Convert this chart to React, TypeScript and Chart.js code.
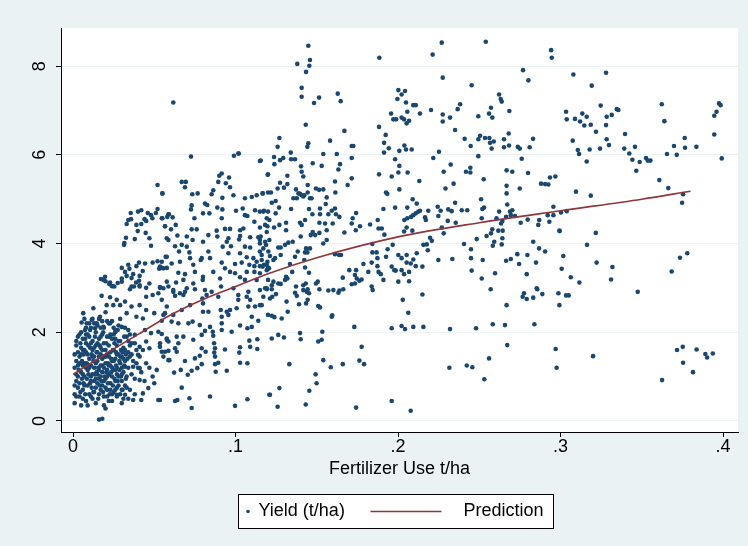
import React, { useEffect, useRef } from "react";
import { Chart, registerables } from "chart.js";

Chart.register(...registerables);

// ---- axis ticks ----
const xTickValues = [0, 0.1, 0.2, 0.3, 0.4];
const yTickValues = [0, 2, 4, 6, 8];
const xAxisTitle = "Fertilizer Use t/ha";
const legendLabels = ["Yield (t/ha)", "Prediction"];

// ---- prediction curve ----
const predictionX = [0, 0.01, 0.02, 0.04, 0.06, 0.08, 0.1, 0.12, 0.15, 0.2, 0.25, 0.3, 0.35, 0.38];
const predictionY = [1.05, 1.28, 1.51, 1.95, 2.39, 2.74, 3.03, 3.32, 3.68, 4.15, 4.47, 4.74, 5.0, 5.18];

// ---- observed yield, flat [fertilizer, yield, ...] lists by fertilizer band ----
const yieldCore = [
  0.001,0.40, 0.001,0.60, 0.002,0.90, 0.001,1.20, 0.002,1.35, 0.001,1.50, 0.002,1.70, 0.003,1.90, 0.003,0.75, 0.002,1.05,
  0.016,0.03, 0.018,0.05, 0.020,0.28, 0.019,0.35,
  0.004,0.55, 0.004,0.85, 0.005,1.10, 0.004,1.45, 0.005,1.65, 0.006,1.85, 0.006,0.70, 0.007,1.00, 0.007,1.30, 0.008,1.55,
  0.008,1.75, 0.008,0.45, 0.009,0.80, 0.009,1.15, 0.010,1.40, 0.010,1.90, 0.010,0.60, 0.011,1.00, 0.011,1.25, 0.012,1.60,
  0.012,1.80, 0.012,0.50, 0.013,0.90, 0.013,1.20, 0.013,1.45, 0.014,1.70, 0.014,2.00, 0.014,0.75, 0.015,1.05, 0.015,1.35,
  0.015,1.55, 0.016,1.85, 0.016,0.60, 0.016,0.95, 0.017,1.25, 0.017,1.50, 0.017,1.65, 0.018,0.80, 0.018,1.10, 0.018,1.40,
  0.019,1.75, 0.019,2.10, 0.019,0.55, 0.020,0.95, 0.020,1.30, 0.020,1.60, 0.021,1.90, 0.021,0.70, 0.021,1.15, 0.022,1.45,
  0.022,1.70, 0.022,0.45, 0.023,0.85, 0.023,1.25, 0.023,1.55, 0.024,1.00, 0.024,1.35, 0.024,1.85, 0.025,0.65, 0.025,1.15,
  0.025,1.60, 0.026,0.90, 0.026,1.40, 0.026,2.00, 0.027,0.75, 0.027,1.20, 0.027,1.70, 0.028,1.00, 0.028,1.50, 0.029,0.60,
  0.029,1.30, 0.029,1.80, 0.030,0.90, 0.030,1.45, 0.031,1.10, 0.031,1.65, 0.032,0.80, 0.032,1.35, 0.033,1.00, 0.033,1.90,
  0.034,1.20, 0.034,1.55, 0.035,0.70, 0.035,1.70, 0.036,1.05, 0.037,1.35, 0.038,0.95, 0.039,1.60, 0.040,1.20,
  0.005,0.35, 0.006,1.25, 0.007,1.60, 0.009,1.50, 0.011,1.75, 0.012,1.05, 0.013,0.65, 0.014,1.30, 0.015,0.85, 0.016,1.45,
  0.017,1.00, 0.018,1.60, 0.019,1.20, 0.020,0.75, 0.021,1.50, 0.022,1.05, 0.023,1.95, 0.024,0.60, 0.025,1.35, 0.026,1.15,
  0.027,1.50, 0.028,0.80, 0.030,1.20, 0.031,0.50, 0.012,2.30, 0.008,2.10, 0.005,2.00, 0.016,2.30, 0.020,2.45, 0.024,2.25,
  0.028,2.15, 0.003,1.55, 0.002,0.55,
  0.0035,1.15, 0.0045,1.75, 0.0055,0.95, 0.0065,1.50, 0.0075,0.60, 0.0085,1.30, 0.0095,1.05, 0.0105,1.65, 0.0115,0.75, 0.0125,1.35,
  0.0135,1.90, 0.0145,1.10, 0.0155,0.50, 0.0165,1.70, 0.0175,0.90, 0.0185,2.00, 0.0195,1.45, 0.0205,1.10, 0.0215,0.85, 0.0225,1.90,
  0.0235,1.40, 0.0245,0.80, 0.0255,1.75, 0.0265,1.25, 0.0275,2.05, 0.0285,1.15, 0.0295,1.60, 0.0305,0.70, 0.0315,1.90, 0.0325,1.50,
  0.006,0.50, 0.009,0.35, 0.011,0.55, 0.014,0.40, 0.017,0.70, 0.021,0.55, 0.024,0.45, 0.027,0.55, 0.030,0.40, 0.008,1.95,
  0.011,2.10, 0.015,2.15, 0.018,1.95, 0.022,2.20, 0.026,1.85, 0.029,2.30, 0.032,2.10, 0.035,1.95, 0.038,1.75, 0.036,1.50,
  0.039,1.30, 0.041,1.45, 0.043,1.60, 0.042,1.10, 0.045,1.30, 0.044,0.90, 0.047,1.20, 0.049,1.00, 0.038,0.60, 0.034,0.50,
  0.0045,0.65, 0.0055,1.35, 0.0065,0.85, 0.0075,1.85, 0.0085,0.95, 0.0095,1.70, 0.0105,0.85, 0.0115,1.50, 0.0125,0.65, 0.0135,1.05,
  0.0145,1.55, 0.0155,1.20, 0.0165,0.80, 0.0175,1.45, 0.0185,0.65, 0.0195,1.00, 0.0205,1.75, 0.0215,1.30, 0.0225,0.60, 0.0235,1.10,
  0.0245,1.60, 0.0255,0.95, 0.0265,1.55, 0.0275,0.90, 0.0285,1.35, 0.0295,1.00, 0.0305,1.55, 0.0315,1.25, 0.0325,0.95, 0.0335,1.40,
  0.005,1.50, 0.006,1.05, 0.007,0.80, 0.008,1.20, 0.009,1.95, 0.010,1.20, 0.011,0.90, 0.012,1.45, 0.013,1.65, 0.014,0.95,
  0.015,1.75, 0.016,1.15, 0.017,1.90, 0.018,1.25, 0.019,0.90, 0.020,1.45, 0.021,1.00, 0.022,1.25, 0.023,0.70, 0.024,1.20,
  0.025,1.95, 0.026,0.70, 0.027,1.05, 0.028,1.80, 0.029,1.45, 0.030,1.05, 0.031,1.40, 0.032,1.60, 0.033,0.75, 0.034,1.80,
  0.004,1.30, 0.006,1.60, 0.009,1.25, 0.013,2.20, 0.017,2.10, 0.021,2.25, 0.025,2.10, 0.018,2.25, 0.010,2.20, 0.007,2.30,
  0.003,1.00, 0.003,1.25, 0.002,1.80, 0.004,1.95, 0.001,0.80,
];

const yieldRise = [
  0.0187,3.18, 0.0244,3.04, 0.0223,3.09, 0.030,3.14, 0.036,3.03, 0.041,3.06, 0.047,3.10, 0.0525,2.88, 0.049,2.84, 0.045,2.80,
  0.0535,3.00, 0.0176,2.82, 0.0228,2.79, 0.0207,2.61, 0.0248,2.61, 0.029,2.61, 0.0269,2.73, 0.032,2.69, 0.036,2.58, 0.041,2.61,
  0.045,2.50, 0.033,2.43, 0.039,2.35, 0.043,2.31, 0.050,2.43, 0.0556,2.39, 0.0063,2.43, 0.0125,2.54, 0.0053,2.22, 0.0084,2.20,
  0.0115,2.28, 0.0146,2.20, 0.0166,2.35, 0.0074,2.05, 0.0105,2.05, 0.0135,2.09, 0.0187,2.12, 0.0228,2.20, 0.026,2.05, 0.030,2.12,
  0.034,2.05, 0.038,1.94, 0.0443,2.05, 0.048,1.98, 0.0525,2.01, 0.0577,1.86, 0.045,1.79, 0.047,1.64, 0.0535,1.67, 0.0566,1.56,
  0.0587,1.37, 0.041,1.67, 0.036,1.75, 0.040,1.49, 0.035,1.45, 0.037,1.22, 0.032,1.22, 0.041,1.19, 0.0515,1.15, 0.050,0.85,
  0.0463,0.74, 0.043,0.62, 0.041,0.92, 0.037,0.47, 0.042,0.47, 0.0525,0.47, 0.030,0.70, 0.032,0.59, 0.0269,0.59,
  0.052,5.32, 0.055,5.13, 0.042,4.75, 0.040,4.72, 0.0355,4.69, 0.046,4.69, 0.048,4.64, 0.051,4.69, 0.052,4.78, 0.0587,4.66,
  0.034,4.53, 0.0357,4.55, 0.033,4.44, 0.039,4.42, 0.042,4.44, 0.044,4.55, 0.045,4.51, 0.0488,4.57, 0.0546,4.57, 0.0566,4.39,
  0.0398,4.28, 0.0447,4.24, 0.047,4.12, 0.0326,4.13, 0.0316,4.01, 0.0314,3.97, 0.038,4.10, 0.048,3.95, 0.0587,4.08, 0.0577,3.70,
  0.0546,3.59, 0.052,3.60, 0.049,3.57, 0.0546,3.45, 0.053,3.43, 0.0577,3.45, 0.030,3.45, 0.034,3.52, 0.0347,3.43, 0.039,3.49,
  0.0406,3.57, 0.0443,3.55, 0.037,3.31, 0.041,3.27, 0.0429,3.38, 0.032,3.36, 0.033,3.27, 0.030,3.21, 0.0172,3.20, 0.0197,3.25,
  0.020,3.15, 0.0228,3.12, 0.0238,3.04, 0.0254,3.03, 0.0275,3.11, 0.036,3.22, 0.0388,3.12, 0.0375,3.03, 0.041,3.03, 0.045,3.00,
  0.0535,3.02, 0.0587,3.03, 0.035,2.97, 0.0406,3.16,
];

const yieldMidLeft = [
  0.0617,7.18, 0.102,6.03,
  0.0726,5.96, 0.099,5.98, 0.1017,6.03, 0.1155,5.87, 0.120,5.56, 0.0915,5.58, 0.090,5.53, 0.096,5.49, 0.0894,5.39, 0.094,5.36,
  0.0966,5.27, 0.0669,5.39, 0.0694,5.39, 0.0689,5.27, 0.055,5.13, 0.0734,5.11, 0.0767,5.13, 0.0853,5.11, 0.0863,5.20, 0.0919,5.03,
  0.0987,5.09, 0.1058,5.02, 0.110,5.05, 0.113,5.09, 0.1167,5.13, 0.120,5.15, 0.0812,4.90, 0.0826,4.87, 0.073,4.86, 0.0726,4.77,
  0.080,4.68, 0.0839,4.68, 0.0888,4.81, 0.0919,4.77, 0.0915,4.57, 0.1003,4.74, 0.1058,4.64, 0.1073,4.62, 0.112,4.75, 0.115,4.72,
  0.1175,4.74, 0.120,4.72, 0.1044,4.79, 0.059,4.66, 0.058,4.60, 0.055,4.57, 0.0613,4.59, 0.0747,4.57, 0.0566,4.39, 0.0632,4.42,
  0.0603,4.32, 0.0884,4.29, 0.0935,4.33, 0.0966,4.33, 0.1028,4.30, 0.1048,4.34, 0.1116,4.49, 0.115,4.36, 0.1196,4.39, 0.073,4.32,
  0.0761,4.32, 0.070,4.16, 0.0736,4.08, 0.0642,4.18, 0.0833,4.19, 0.0888,4.16, 0.0956,4.12, 0.0946,4.04, 0.1028,4.17, 0.1022,4.09,
  0.109,4.14, 0.114,4.14, 0.115,4.08, 0.0577,4.12, 0.080,4.04, 0.0628,3.94, 0.0669,3.97, 0.070,3.93, 0.0921,3.93, 0.0972,3.94,
  0.1058,3.93, 0.109,3.91, 0.115,4.00, 0.1208,4.08, 0.057,3.70, 0.0652,3.82, 0.0716,3.80, 0.072,3.67, 0.0792,3.67, 0.0833,3.82,
  0.0843,3.67, 0.0956,3.78, 0.1028,3.78, 0.1069,3.69, 0.111,3.67, 0.113,3.59, 0.1161,3.63, 0.1196,3.59, 0.0535,3.48, 0.0607,3.55,
  0.0658,3.59, 0.074,3.52, 0.0786,3.63, 0.0915,3.57, 0.0997,3.54, 0.1038,3.57, 0.1085,3.52, 0.1116,3.49, 0.115,3.49, 0.1175,3.52,
  0.120,3.46, 0.0556,3.44, 0.0648,3.34, 0.0689,3.31, 0.075,3.36, 0.080,3.25, 0.0863,3.36, 0.0935,3.44, 0.0966,3.36, 0.0997,3.33,
  0.1069,3.36, 0.1116,3.36, 0.115,3.33, 0.1192,3.40, 0.0577,3.14, 0.0634,3.12, 0.0679,3.18, 0.074,3.10, 0.0798,3.18, 0.0905,3.21,
  0.1028,3.24, 0.1058,3.18, 0.113,3.18, 0.120,3.18, 0.0556,2.99, 0.0617,2.95, 0.070,2.99, 0.075,2.97, 0.0812,2.95, 0.0911,3.03,
  0.0987,2.99, 0.1079,2.91, 0.115,2.95, 0.1192,2.99, 0.0628,2.82, 0.0679,2.84, 0.0894,2.80, 0.1017,2.84, 0.1069,2.80, 0.1171,2.80,
  0.0617,2.91, 0.0658,2.88, 0.0689,2.91, 0.0796,2.76, 0.0822,2.84, 0.0853,2.91, 0.1017,2.73, 0.109,2.73, 0.0546,2.73, 0.0577,2.58,
  0.0617,2.39, 0.0566,2.43, 0.0669,2.50, 0.072,2.61, 0.080,2.65, 0.080,2.46, 0.0833,2.46, 0.0909,2.50, 0.0946,2.46, 0.0966,2.50,
  0.0915,2.35, 0.0956,2.39, 0.1007,2.54, 0.1079,2.58, 0.112,2.58, 0.115,2.61, 0.120,2.39, 0.110,2.35, 0.114,2.26, 0.0546,2.26,
  0.0607,2.24, 0.0648,2.20, 0.071,2.20, 0.0736,2.24, 0.078,2.16, 0.0843,2.12, 0.0915,2.20, 0.1028,2.15, 0.1073,2.09, 0.110,2.12,
  0.0812,2.03, 0.086,2.01, 0.0915,2.05, 0.0976,2.01, 0.0546,1.96, 0.0638,1.90, 0.0679,1.90, 0.074,1.83, 0.0792,1.94, 0.0863,1.92,
  0.0577,1.83, 0.0535,1.75, 0.0587,1.79, 0.0648,1.75, 0.0868,1.75, 0.0874,1.64, 0.0935,1.61, 0.1028,1.66, 0.1085,1.81, 0.1134,1.84,
  0.109,1.67, 0.1134,1.62, 0.0546,1.56, 0.0587,1.58, 0.0628,1.64, 0.0638,1.56, 0.0792,1.64, 0.0816,1.56, 0.0869,1.54, 0.1023,1.54,
  0.0556,1.45, 0.0593,1.37, 0.075,1.41, 0.078,1.47, 0.0874,1.45, 0.0689,1.35, 0.0894,1.31, 0.0874,1.28, 0.1028,1.31, 0.1073,1.30,
  0.0792,1.28, 0.0765,1.19, 0.073,1.13, 0.0663,1.15, 0.0622,1.09, 0.0706,1.04, 0.0878,1.11, 0.0946,1.13, 0.0669,0.75, 0.0628,0.45,
  0.0642,0.47, 0.0716,0.51, 0.0843,0.55, 0.073,0.29, 0.0997,0.34, 0.1073,0.49, 0.1208,0.59, 0.0535,0.47,
];

const yieldCenter = [
  0.1448,8.46, 0.1458,8.14, 0.1454,8.01, 0.138,8.05, 0.1434,7.87, 0.1885,8.19, 0.1407,7.51, 0.1407,7.31, 0.1483,7.17, 0.1514,7.29,
  0.1629,7.38, 0.1647,7.21, 0.2002,7.46, 0.1996,7.26, 0.1957,6.93, 0.1971,6.80, 0.1988,6.80, 0.1432,6.68, 0.167,6.54, 0.1883,6.63,
  0.1924,6.45, 0.1914,6.27, 0.1943,6.15, 0.2008,6.09, 0.1914,6.05, 0.127,6.38, 0.1259,6.18, 0.1448,6.26, 0.1442,6.18, 0.1582,6.32,
  0.1715,6.20, 0.1725,6.20, 0.134,6.05, 0.154,6.02, 0.1623,6.02, 0.115,5.86, 0.1237,5.95, 0.1294,5.93, 0.1274,5.88, 0.1342,5.90,
  0.1366,5.90, 0.1239,5.79, 0.1715,5.93, 0.1403,5.74, 0.1475,5.81, 0.153,5.75, 0.1643,5.79, 0.1633,5.67, 0.1407,5.62, 0.1417,5.51,
  0.1198,5.55, 0.1319,5.53, 0.1715,5.47, 0.1883,5.56, 0.1961,5.51, 0.2008,5.75, 0.1982,5.90, 0.1274,5.37, 0.1319,5.34, 0.1259,5.24,
  0.1298,5.26, 0.1444,5.32, 0.1495,5.24, 0.1514,5.21, 0.154,5.22, 0.1612,5.40, 0.169,5.32, 0.1372,5.22, 0.1167,5.13, 0.1218,5.15,
  0.1387,5.13, 0.1407,5.09, 0.1423,5.09, 0.1444,5.15, 0.1614,5.15, 0.1561,5.04, 0.1926,5.15, 0.1934,5.12, 0.2008,5.22, 0.1356,5.02,
  0.1468,5.02, 0.1377,5.02, 0.1397,5.12, 0.1417,5.06, 0.1458,5.02, 0.1223,4.92, 0.1247,4.96, 0.1171,4.72, 0.1247,4.68, 0.1268,4.81,
  0.1342,4.78, 0.1452,4.78, 0.1473,4.66, 0.152,4.79, 0.152,4.66, 0.1555,4.89, 0.1571,4.66, 0.1592,4.74, 0.1618,4.66, 0.1639,4.60,
  0.1598,4.45, 0.1516,4.47, 0.1428,4.53, 0.1397,4.47, 0.1407,4.42, 0.1192,4.57, 0.1208,4.53, 0.1182,4.42, 0.1237,4.36, 0.127,4.42,
  0.1311,4.47, 0.1311,4.30, 0.1192,4.26, 0.1155,4.16, 0.1182,4.04, 0.1188,3.97, 0.1171,3.89, 0.115,3.82, 0.1161,3.74, 0.1202,3.82,
  0.1212,3.72, 0.1243,3.67, 0.1233,3.63, 0.1192,3.52, 0.1206,3.44, 0.1167,3.48, 0.1263,3.91, 0.1278,3.91, 0.1305,3.97, 0.1325,4.02,
  0.1352,4.04, 0.1278,3.74, 0.1366,3.70, 0.1383,3.82, 0.1428,3.80, 0.1442,3.80, 0.1423,3.63, 0.1428,3.46, 0.1452,3.34, 0.1434,3.89,
  0.1458,3.89, 0.1335,3.54, 0.1349,3.36, 0.1311,3.25, 0.1305,3.18, 0.1319,3.21, 0.1233,3.14, 0.1182,2.99, 0.1223,3.06, 0.1223,2.97,
  0.1263,3.10, 0.1278,3.09, 0.1192,2.97, 0.1212,2.76, 0.1226,2.80, 0.1249,2.86, 0.1161,2.61, 0.1314,2.69, 0.1372,3.03, 0.1377,2.82,
  0.1366,2.89, 0.1417,2.95, 0.1417,3.06, 0.1432,3.10, 0.1438,2.91, 0.1444,2.97, 0.1452,2.88, 0.1495,3.10, 0.1506,3.14, 0.1516,2.97,
  0.1444,2.73, 0.1434,2.65, 0.1391,2.63, 0.1509,2.59, 0.152,2.56, 0.1571,2.94, 0.1602,2.95, 0.1633,2.89, 0.1639,2.94, 0.1663,2.97,
  0.166,3.23, 0.170,3.40, 0.1715,3.08, 0.1735,3.10, 0.1746,3.21, 0.1742,3.40, 0.1735,3.29, 0.1762,3.16, 0.1776,3.19, 0.1787,3.54,
  0.1817,3.36, 0.1838,3.57, 0.1838,3.03, 0.1844,2.95, 0.1873,3.49, 0.188,3.36, 0.1894,3.31, 0.191,3.18, 0.1873,3.67, 0.1842,3.80,
  0.1868,3.80, 0.1926,3.70, 0.1936,3.87, 0.1961,3.48, 0.1977,3.40, 0.1967,3.97, 0.1875,4.53, 0.188,4.34, 0.190,4.34, 0.1916,4.20,
  0.191,4.78, 0.1842,3.99, 0.1828,4.43, 0.1766,4.39, 0.174,4.30, 0.1742,4.69, 0.1721,4.57, 0.1715,4.45, 0.167,4.25, 0.1612,4.79,
  0.1551,4.45, 0.1561,4.30, 0.154,4.00, 0.1561,4.08, 0.1516,4.24, 0.1475,4.26, 0.149,4.19, 0.1463,4.19, 0.1401,4.16, 0.1612,3.76,
  0.1637,3.74, 0.1649,3.74, 0.1284,2.31, 0.1321,2.46, 0.1223,2.37, 0.1239,2.34, 0.1592,2.35, 0.1595,2.38, 0.1731,2.12, 0.1961,2.09,
  0.1223,1.86, 0.1263,1.94, 0.1298,1.88, 0.1397,1.98, 0.1401,1.84, 0.1534,2.01, 0.153,1.83, 0.1509,1.79, 0.1776,1.67, 0.154,1.37,
  0.1331,1.28, 0.1586,1.21, 0.166,1.28, 0.1762,1.36, 0.1791,1.28, 0.1493,1.05, 0.1499,0.85, 0.1454,0.68, 0.127,0.74, 0.1212,0.59,
  0.1259,0.32, 0.1432,0.37, 0.1742,0.30, 0.1961,0.45,
];

const yieldCenterRight = [
  0.2269,8.53, 0.2213,8.26, 0.254,8.55, 0.2942,8.36, 0.2946,8.19, 0.2769,7.91, 0.2802,7.68, 0.2275,7.74, 0.2453,7.57, 0.2043,7.44,
  0.2022,7.36, 0.2049,7.18, 0.2094,7.12, 0.2109,7.12, 0.2057,6.97, 0.2203,7.01, 0.2135,6.93, 0.2275,6.91, 0.2275,6.75, 0.232,6.84,
  0.2367,7.03, 0.2382,7.14, 0.2022,6.84, 0.2037,6.80, 0.2068,6.77, 0.2053,6.71, 0.2351,6.56, 0.2494,6.87, 0.256,6.93, 0.2572,7.06,
  0.258,6.84, 0.2622,7.36, 0.2632,7.26, 0.2638,7.20, 0.2685,6.99, 0.241,6.36, 0.2447,6.20, 0.2494,6.35, 0.2505,6.43, 0.2535,6.38,
  0.2562,6.38, 0.2566,6.27, 0.2589,6.30, 0.2576,6.14, 0.2652,6.35, 0.2681,6.48, 0.2683,6.21, 0.2652,6.17, 0.2737,6.18, 0.2749,6.14,
  0.281,6.17, 0.2831,6.36, 0.2049,6.12, 0.2084,6.12, 0.2039,6.21, 0.2252,6.07, 0.2217,5.93, 0.2494,5.97, 0.2761,5.91, 0.2002,5.60,
  0.2059,5.60, 0.2281,5.62, 0.2324,5.78, 0.2418,5.62, 0.2445,5.71, 0.2445,5.60, 0.2527,5.45, 0.2668,5.65, 0.2703,5.62, 0.280,5.59,
  0.2131,5.41, 0.2342,5.35, 0.2292,5.24, 0.2668,5.30, 0.2668,5.13, 0.2749,5.24, 0.288,5.35, 0.2905,5.34, 0.2925,5.33, 0.2935,5.49,
  0.2968,5.51, 0.209,5.00, 0.2511,5.00,
  0.2115,4.90, 0.1982,4.81, 0.2057,4.81, 0.2039,4.53, 0.2037,4.27, 0.2053,4.36, 0.2057,4.57, 0.2088,4.29, 0.208,4.60, 0.2094,4.64,
  0.2109,4.68, 0.2125,4.72, 0.2135,4.74, 0.2166,4.59, 0.2171,4.53, 0.2186,4.74, 0.2244,4.83, 0.2248,4.62, 0.2262,4.74, 0.2269,4.36,
  0.2281,4.23, 0.2306,4.51, 0.2309,4.77, 0.233,4.73, 0.2351,4.92, 0.2355,4.47, 0.2392,4.75, 0.2426,4.75, 0.2519,4.78, 0.2529,4.81,
  0.2515,4.57, 0.2484,4.10, 0.2545,4.17, 0.2572,4.23, 0.258,4.32, 0.2592,4.04, 0.2583,3.95, 0.2606,4.57, 0.2617,4.29, 0.2622,4.72,
  0.2634,4.45, 0.2642,4.51, 0.2644,4.29, 0.2642,4.12, 0.2638,3.98, 0.2672,4.88, 0.2665,4.60, 0.2689,4.72, 0.2694,4.64, 0.2703,4.75,
  0.272,4.62, 0.2755,4.47, 0.2798,4.54, 0.2832,4.04, 0.2863,4.42, 0.2869,4.53, 0.2921,4.64, 0.2931,4.49, 0.2956,4.83, 0.2956,4.64,
  0.2993,4.29, 0.2002,3.74, 0.2022,3.67, 0.2053,3.74, 0.2053,3.57, 0.2078,3.55, 0.2094,3.64, 0.2115,3.78, 0.2109,3.49, 0.215,3.48,
  0.2156,3.97, 0.2177,3.98, 0.2183,3.85, 0.2197,4.13, 0.2208,4.06, 0.1986,3.39, 0.2022,3.40, 0.2037,3.31, 0.2068,3.36, 0.2068,3.15,
  0.2002,3.14, 0.2248,3.63, 0.2334,3.65, 0.2406,3.99, 0.2449,3.87, 0.2449,3.67, 0.2453,3.39, 0.2521,3.63, 0.2515,3.21, 0.2597,3.33,
  0.257,2.97, 0.2665,3.61, 0.2694,3.65, 0.2734,3.76, 0.2745,3.54, 0.2796,3.74, 0.2792,3.31, 0.2849,3.57, 0.2868,3.89, 0.2905,3.82,
  0.2853,2.99, 0.2857,2.97, 0.2888,2.86, 0.2832,2.78, 0.2792,2.75, 0.2775,2.88, 0.2767,2.80, 0.2987,2.88, 0.2993,2.61, 0.2668,2.61,
  0.2029,2.73, 0.215,2.85, 0.2063,2.44, 0.2022,2.14, 0.2043,2.07, 0.2094,2.12, 0.2156,2.12, 0.232,2.07, 0.248,2.09, 0.2583,2.18,
  0.2658,2.16, 0.2839,2.18, 0.2672,1.71, 0.256,1.41, 0.2316,1.20, 0.2423,1.25, 0.2457,1.21, 0.2531,0.94, 0.297,1.62, 0.2976,1.20,
  0.2078,0.23,
];

const yieldRight = [
  0.3079,7.81, 0.328,7.85, 0.3192,7.56, 0.3247,7.11, 0.3034,6.97, 0.3038,6.80, 0.3089,6.81, 0.312,6.75, 0.3134,6.93, 0.3161,6.86,
  0.3146,6.66, 0.3186,6.68, 0.3218,6.52, 0.3284,6.86, 0.328,6.67, 0.3315,6.90, 0.3346,7.03, 0.3356,7.01, 0.3284,6.35, 0.3298,6.22,
  0.3075,6.32, 0.3106,6.11, 0.3114,6.02, 0.3179,6.12, 0.3243,6.14, 0.3161,5.85, 0.3397,6.47, 0.3392,6.14, 0.3423,6.03, 0.3458,6.18,
  0.3442,5.89, 0.3466,5.64, 0.3487,5.84, 0.3526,5.93, 0.3537,5.87, 0.3553,5.87, 0.3623,7.14, 0.3639,6.76, 0.3655,6.02, 0.3698,6.20,
  0.3715,6.00, 0.3764,6.38, 0.3766,6.16, 0.3836,6.18, 0.3608,5.43, 0.3663,5.25, 0.3754,5.11, 0.3095,5.17, 0.3186,5.08, 0.3946,6.46,
  0.3946,6.88, 0.396,6.97, 0.3975,7.16, 0.3985,7.12, 0.3992,5.92,
  0.3003,4.70, 0.3038,4.73, 0.3748,4.92, 0.2995,4.28, 0.3217,4.24, 0.3163,3.97, 0.3017,3.72, 0.3007,3.43, 0.3222,3.57, 0.3319,3.47,
  0.3063,3.24, 0.3116,3.12, 0.3311,3.19, 0.3034,2.83, 0.305,2.83, 0.3475,2.91, 0.3684,3.37, 0.3735,3.68, 0.378,3.78, 0.32,1.46,
  0.3717,1.60, 0.3752,1.67, 0.3837,1.61, 0.3891,1.51, 0.3902,1.43, 0.3937,1.52, 0.3754,1.31, 0.3815,1.10, 0.3625,0.92,
];

const NAVY = "#1a476f";
const MAROON = "#90353b";
const BG = "#eaf2f3";
const FONT = "'Liberation Sans', Arial, Helvetica, sans-serif";

function toPoints(flat: number[]) {
  const out: { x: number; y: number }[] = [];
  for (let i = 0; i + 1 < flat.length; i += 2) out.push({ x: flat[i], y: flat[i + 1] });
  return out;
}

function formatX(v: number) {
  if (v === 0) return "0";
  return String(Math.round(v * 10) / 10).replace(/^0/, "");
}

const stataPlugin = {
  id: "stataLook",
  beforeDraw(chart: any) {
    const { ctx, chartArea: a, width, height } = chart;
    ctx.save();
    ctx.fillStyle = BG;
    ctx.fillRect(0, 0, width, height);
    ctx.fillStyle = "#ffffff";
    ctx.fillRect(a.left, a.top, a.right - a.left, a.bottom - a.top);
    ctx.restore();
  },
  afterDraw(chart: any) {
    const { ctx } = chart;
    const ys = chart.scales.y;
    ctx.save();
    ctx.fillStyle = "#000";
    ctx.font = `18px ${FONT}`;
    ctx.textAlign = "center";
    ctx.textBaseline = "middle";
    for (const v of yTickValues) {
      const py = ys.getPixelForValue(v);
      ctx.save();
      ctx.translate(40, py);
      ctx.rotate(-Math.PI / 2);
      ctx.fillText(String(v), 0, 0);
      ctx.restore();
    }
    // legend
    const bx = 238.5, by = 494.5, bw = 315, bh = 34;
    const cy = by + bh / 2;
    ctx.fillStyle = "#ffffff";
    ctx.fillRect(bx, by, bw, bh);
    ctx.strokeStyle = "#000";
    ctx.lineWidth = 1;
    ctx.strokeRect(bx, by, bw, bh);
    ctx.fillStyle = NAVY;
    ctx.beginPath();
    ctx.arc(bx + 9.5, cy, 1.8, 0, Math.PI * 2);
    ctx.fill();
    ctx.fillStyle = "#000";
    ctx.textAlign = "left";
    ctx.fillText(legendLabels[0], bx + 20, cy);
    ctx.strokeStyle = MAROON;
    ctx.lineWidth = 1.5;
    ctx.beginPath();
    ctx.moveTo(bx + 132, cy);
    ctx.lineTo(bx + 203, cy);
    ctx.stroke();
    ctx.fillStyle = "#000";
    ctx.fillText(legendLabels[1], bx + 225, cy);
    ctx.restore();
  },
};

export default function App() {
  const ref = useRef<HTMLCanvasElement | null>(null);

  useEffect(() => {
    if (!ref.current) return;
    const yieldPoints = [
      ...toPoints(yieldCore),
      ...toPoints(yieldRise),
      ...toPoints(yieldMidLeft),
      ...toPoints(yieldCenter),
      ...toPoints(yieldCenterRight),
      ...toPoints(yieldRight),
    ];
    const predPoints = predictionX.map((x, i) => ({ x, y: predictionY[i] }));

    const chart = new Chart(ref.current, {
      type: "scatter",
      data: {
        datasets: [
          {
            type: "line",
            label: legendLabels[1],
            data: predPoints,
            borderColor: MAROON,
            borderWidth: 1.6,
            pointRadius: 0,
            cubicInterpolationMode: "monotone",
            fill: false,
            order: 0,
          } as any,
          {
            type: "scatter",
            label: legendLabels[0],
            data: yieldPoints,
            backgroundColor: NAVY,
            borderWidth: 0,
            pointRadius: 2.3,
            pointHoverRadius: 2.3,
            order: 1,
          } as any,
        ],
      },
      options: {
        responsive: false,
        animation: false,
        events: [],
        layout: { padding: { left: 12, right: 10, top: 28, bottom: 68 } },
        plugins: { legend: { display: false }, tooltip: { enabled: false } },
        scales: {
          x: {
            type: "linear",
            min: -0.0074,
            max: 0.4092,
            afterBuildTicks: (s: any) => {
              s.ticks = xTickValues.map((v) => ({ value: v }));
            },
            afterFit: (s: any) => {
              s.height = 46;
            },
            ticks: {
              callback: (v: any) => formatX(Number(v)),
              font: { family: FONT, size: 18, lineHeight: 1 },
              color: "#000",
              padding: 1,
              maxRotation: 0,
              minRotation: 0,
              autoSkip: false,
            },
            grid: { drawOnChartArea: false, drawTicks: true, tickLength: 5, tickColor: "#000", tickWidth: 1 },
            border: { display: true, color: "#000", width: 1 },
            title: {
              display: true,
              text: xAxisTitle,
              color: "#000",
              font: { family: FONT, size: 18, lineHeight: 1 },
              padding: { top: 0, bottom: 0 },
            },
          },
          y: {
            type: "linear",
            min: -0.25,
            max: 8.86,
            afterBuildTicks: (s: any) => {
              s.ticks = yTickValues.map((v) => ({ value: v }));
            },
            afterFit: (s: any) => {
              s.width = 49;
            },
            ticks: { display: false },
            grid: { color: BG, lineWidth: 1, drawTicks: true, tickLength: 5, tickColor: "#000", tickWidth: 1 },
            border: { display: true, color: "#000", width: 1 },
          },
        },
      } as any,
      plugins: [stataPlugin],
    });
    return () => chart.destroy();
  }, []);

  return (
    <div style={{ position: "fixed", left: 0, top: 0, width: 748, height: 546 }}>
      <canvas ref={ref} width={748} height={546} style={{ width: 748, height: 546, display: "block" }} />
    </div>
  );
}
